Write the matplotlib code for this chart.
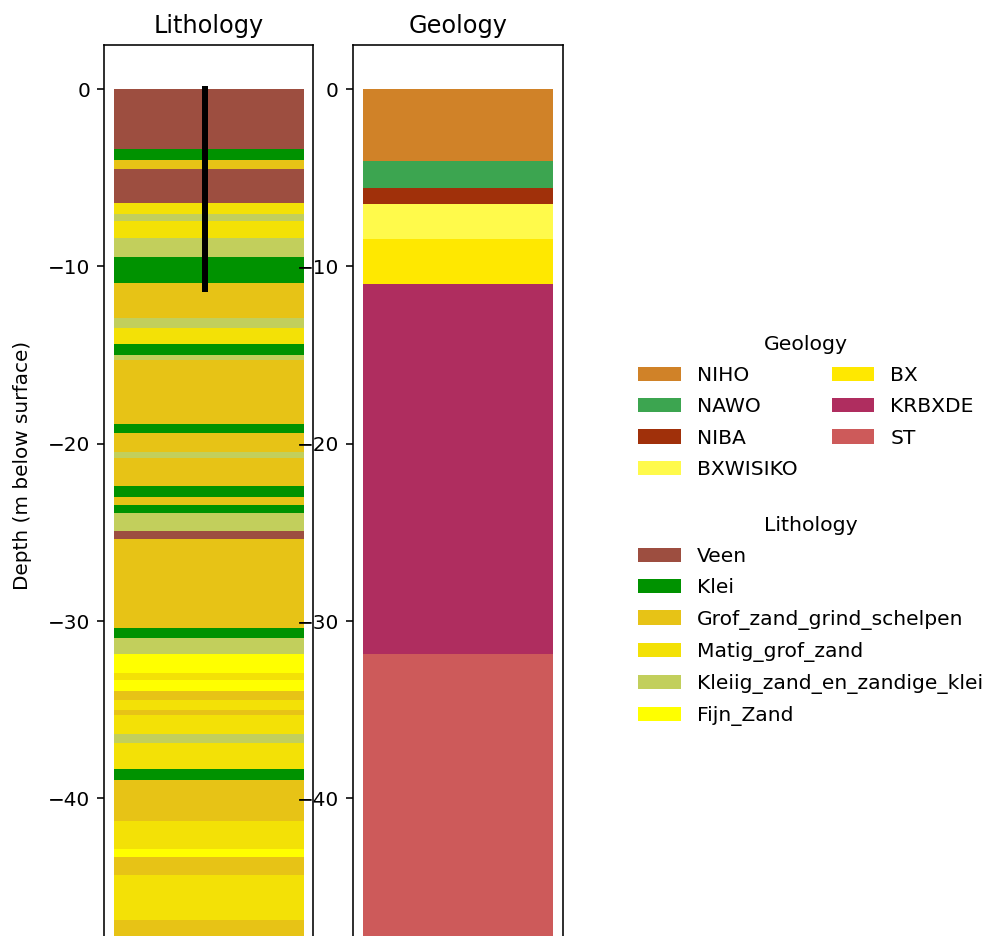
import matplotlib
matplotlib.use("Agg")
import matplotlib.pyplot as plt
from matplotlib.patches import Patch

# Lithology column: layer tops/bottoms (m below surface) and class
litho_top = [0.0, 3.4, 4.0, 4.5, 6.4, 7.05, 7.45, 8.4, 9.45, 10.95, 12.9, 13.5,
             14.4, 15.0, 15.3, 18.9, 19.4, 20.45, 20.8, 22.4, 23.0, 23.45, 23.9,
             24.95, 25.4, 30.4, 30.95, 31.85, 32.95, 33.3, 33.95, 34.45, 35.0,
             35.3, 36.4, 36.9, 38.35, 38.95, 41.3, 42.85, 43.3, 44.3, 46.85]
litho_bottom = litho_top[1:] + [49.0]
litho_class = ["Veen", "Klei", "Grof_zand_grind_schelpen", "Veen", "Matig_grof_zand",
               "Kleiig_zand_en_zandige_klei", "Matig_grof_zand", "Kleiig_zand_en_zandige_klei",
               "Klei", "Grof_zand_grind_schelpen", "Kleiig_zand_en_zandige_klei",
               "Matig_grof_zand", "Klei", "Kleiig_zand_en_zandige_klei",
               "Grof_zand_grind_schelpen", "Klei", "Grof_zand_grind_schelpen",
               "Kleiig_zand_en_zandige_klei", "Grof_zand_grind_schelpen", "Klei",
               "Grof_zand_grind_schelpen", "Klei", "Kleiig_zand_en_zandige_klei", "Veen",
               "Grof_zand_grind_schelpen", "Klei", "Kleiig_zand_en_zandige_klei", "Fijn_Zand",
               "Matig_grof_zand", "Fijn_Zand", "Grof_zand_grind_schelpen", "Matig_grof_zand",
               "Grof_zand_grind_schelpen", "Matig_grof_zand", "Kleiig_zand_en_zandige_klei",
               "Matig_grof_zand", "Klei", "Grof_zand_grind_schelpen", "Matig_grof_zand",
               "Fijn_Zand", "Grof_zand_grind_schelpen", "Matig_grof_zand",
               "Grof_zand_grind_schelpen"]

litho_names = ["Veen", "Klei", "Grof_zand_grind_schelpen", "Matig_grof_zand",
               "Kleiig_zand_en_zandige_klei", "Fijn_Zand"]
litho_colors = ["#9d4e40", "#009200", "#e7c316", "#f3e106", "#c2cf5c", "#ffff00"]

# Geology column
geo_top = [0.0, 4.05, 5.55, 6.45, 8.45, 11.0, 31.85]
geo_bottom = geo_top[1:] + [49.0]
geo_class = ["NIHO", "NAWO", "NIBA", "BXWISIKO", "BX", "KRBXDE", "ST"]
geo_names = ["NIHO", "NAWO", "NIBA", "BXWISIKO", "BX", "KRBXDE", "ST"]
geo_colors = ["#d08228", "#3ca550", "#a0300a", "#fffa4b", "#ffe800", "#af2d5f", "#cd5a5a"]

# Borehole (drilled depth)
bore_x = 0.48
bore_depth = [0.0, 11.28]

litho_cmap = dict(zip(litho_names, litho_colors))
geo_cmap = dict(zip(geo_names, geo_colors))

fig = plt.figure(figsize=(986 / 144, 936 / 144), dpi=144)
ax1 = fig.add_axes([0.1055, -0.0139, 0.212, 0.966])
ax2 = fig.add_axes([0.358, -0.0139, 0.213, 0.966])

for t, b, c in zip(litho_top, litho_bottom, litho_class):
    ax1.bar(0.5, -(b - t), bottom=-t, width=1.0, color=litho_cmap[c], linewidth=0)
ax1.plot([bore_x, bore_x], [-d for d in bore_depth], color="black", lw=3)

for t, b, c in zip(geo_top, geo_bottom, geo_class):
    ax2.bar(0.5, -(b - t), bottom=-t, width=1.0, color=geo_cmap[c], linewidth=0)

for ax, title in [(ax1, "Lithology"), (ax2, "Geology")]:
    ax.set_xlim(-0.05, 1.05)
    ax.set_ylim(-48.5, 2.5)
    ax.set_yticks([0, -10, -20, -30, -40])
    ax.set_xticks([])
    ax.set_title(title, fontsize=12)

fig.text(0.023, 0.503, "Depth (m below surface)", rotation=90,
         ha="center", va="center", fontsize=10)

geo_handles = [Patch(facecolor=c, label=n) for n, c in zip(geo_names, geo_colors)]
litho_handles = [Patch(facecolor=c, label=n) for n, c in zip(litho_names, litho_colors)]

leg_kw = dict(frameon=False, loc="upper left", fontsize=10.1, title_fontsize=10.2,
              labelspacing=0.6, handlelength=2.1)
fig.legend(handles=geo_handles, title="Geology", ncol=2, columnspacing=1.7,
           bbox_to_anchor=(620 / 986, 1 - 317 / 936), **leg_kw)
fig.legend(handles=litho_handles, title="Lithology", ncol=1,
           bbox_to_anchor=(620 / 986, 1 - 498 / 936), **leg_kw)

fig.savefig("out.png", dpi=144)
